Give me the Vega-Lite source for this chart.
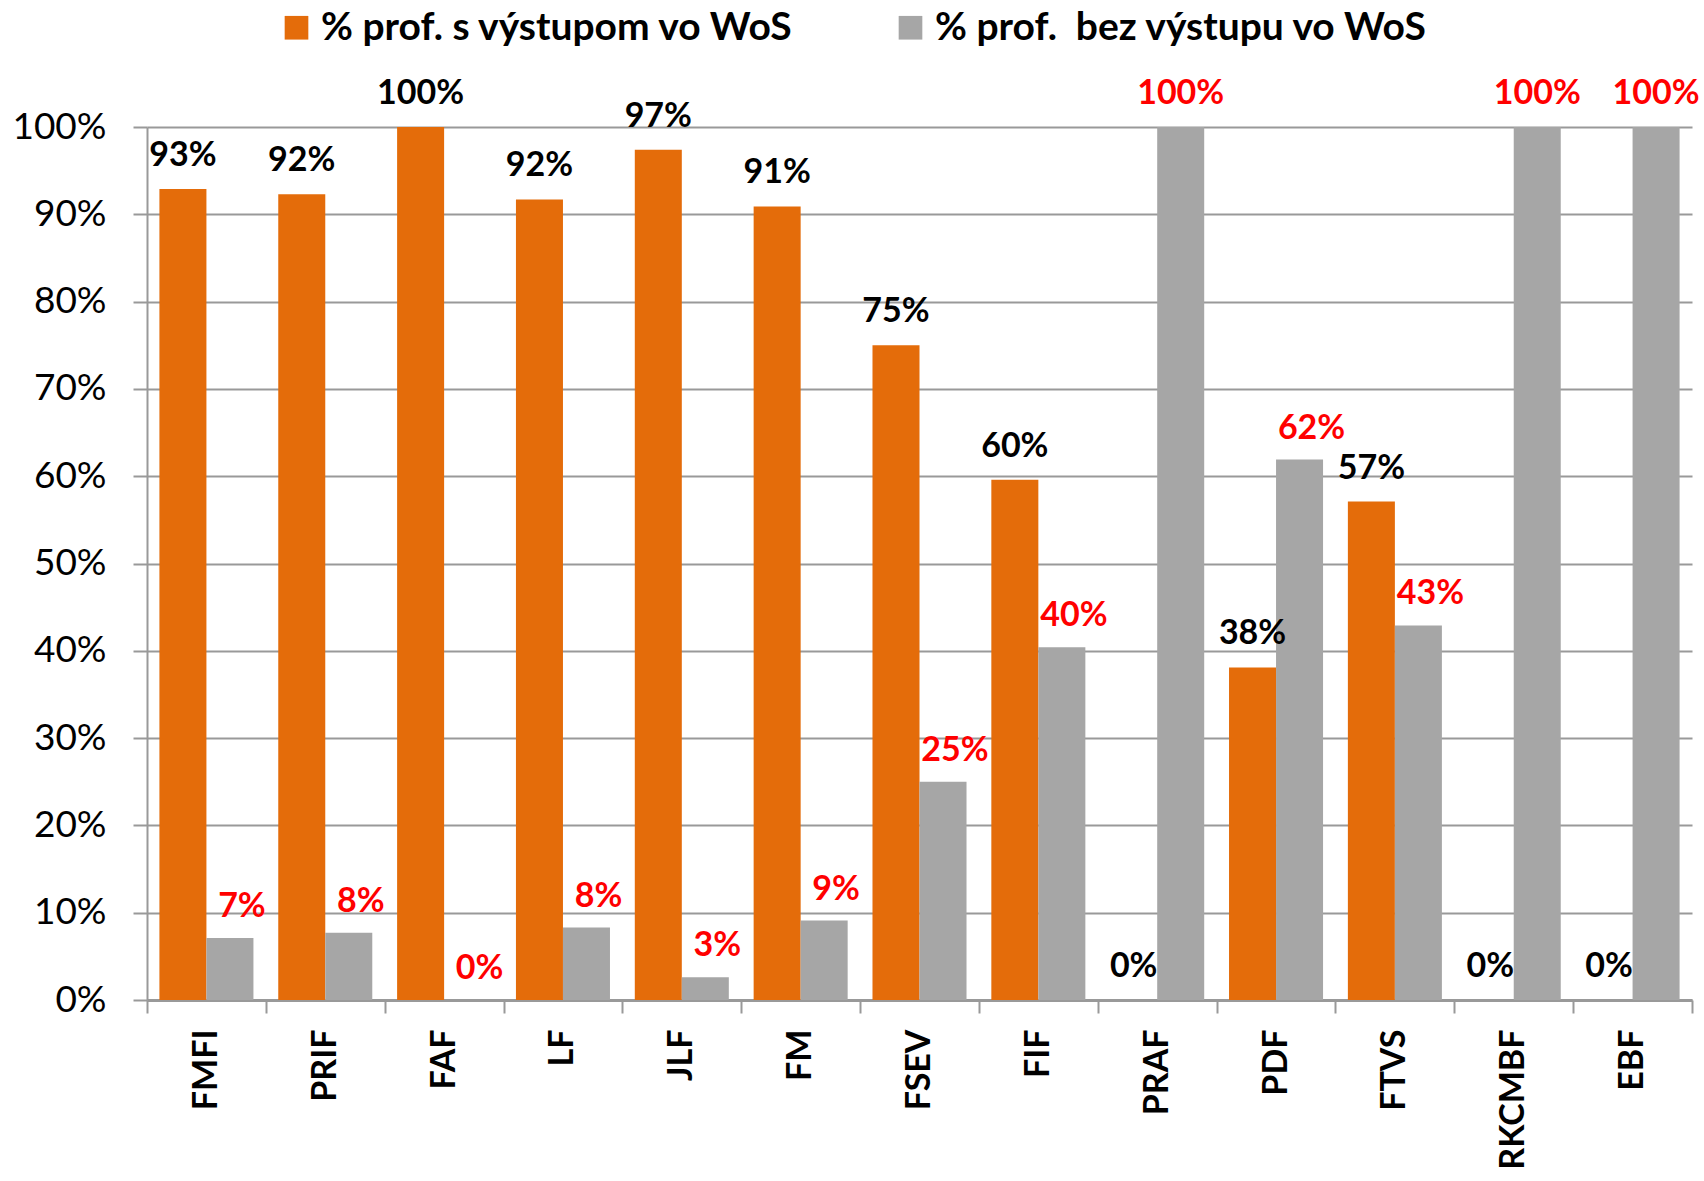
{
  "$schema": "https://vega.github.io/schema/vega-lite/v6.json",
  "width": 1545,
  "height": 873,
  "autosize": {"type": "none"},
  "padding": {"left": 147, "top": 127, "right": 12, "bottom": 181},
  "background": "white",
  "config": {"view": {"stroke": null}, "font": "Lato"},
  "data": {
    "values": [
      {"fak": "FMFI", "ser": "% prof. s výstupom vo WoS", "v": 0.929},
      {"fak": "FMFI", "ser": "% prof.  bez výstupu vo WoS", "v": 0.071},
      {"fak": "PRIF", "ser": "% prof. s výstupom vo WoS", "v": 0.923},
      {"fak": "PRIF", "ser": "% prof.  bez výstupu vo WoS", "v": 0.077},
      {"fak": "FAF", "ser": "% prof. s výstupom vo WoS", "v": 1.0},
      {"fak": "FAF", "ser": "% prof.  bez výstupu vo WoS", "v": 0.0},
      {"fak": "LF", "ser": "% prof. s výstupom vo WoS", "v": 0.917},
      {"fak": "LF", "ser": "% prof.  bez výstupu vo WoS", "v": 0.083},
      {"fak": "JLF", "ser": "% prof. s výstupom vo WoS", "v": 0.974},
      {"fak": "JLF", "ser": "% prof.  bez výstupu vo WoS", "v": 0.026},
      {"fak": "FM", "ser": "% prof. s výstupom vo WoS", "v": 0.909},
      {"fak": "FM", "ser": "% prof.  bez výstupu vo WoS", "v": 0.091},
      {"fak": "FSEV", "ser": "% prof. s výstupom vo WoS", "v": 0.75},
      {"fak": "FSEV", "ser": "% prof.  bez výstupu vo WoS", "v": 0.25},
      {"fak": "FIF", "ser": "% prof. s výstupom vo WoS", "v": 0.596},
      {"fak": "FIF", "ser": "% prof.  bez výstupu vo WoS", "v": 0.404},
      {"fak": "PRAF", "ser": "% prof. s výstupom vo WoS", "v": 0.0},
      {"fak": "PRAF", "ser": "% prof.  bez výstupu vo WoS", "v": 1.0},
      {"fak": "PDF", "ser": "% prof. s výstupom vo WoS", "v": 0.381},
      {"fak": "PDF", "ser": "% prof.  bez výstupu vo WoS", "v": 0.619},
      {"fak": "FTVS", "ser": "% prof. s výstupom vo WoS", "v": 0.571},
      {"fak": "FTVS", "ser": "% prof.  bez výstupu vo WoS", "v": 0.429},
      {"fak": "RKCMBF", "ser": "% prof. s výstupom vo WoS", "v": 0.0},
      {"fak": "RKCMBF", "ser": "% prof.  bez výstupu vo WoS", "v": 1.0},
      {"fak": "EBF", "ser": "% prof. s výstupom vo WoS", "v": 0.0},
      {"fak": "EBF", "ser": "% prof.  bez výstupu vo WoS", "v": 1.0}
    ]
  },
  "encoding": {
    "x": {
      "field": "fak", "type": "nominal", "sort": null,
      "scale": {"paddingInner": 0, "paddingOuter": 0},
      "axis": {
        "title": null, "labelAngle": -90, "labelFont": "Lato", "labelFontWeight": "bold",
        "labelFontSize": 34, "labelColor": "black", "tickBand": "extent",
        "tickSize": 13, "tickColor": "#999999", "tickWidth": 2,
        "domainColor": "#999999", "domainWidth": 3, "labelPadding": 16, "grid": false
      }
    },
    "xOffset": {
      "field": "ser", "type": "nominal",
      "sort": ["% prof. s výstupom vo WoS", "% prof.  bez výstupu vo WoS"],
      "scale": {"paddingOuter": 0.264, "paddingInner": 0}
    },
    "y": {
      "field": "v", "type": "quantitative",
      "scale": {"domain": [0, 1], "nice": false},
      "axis": {
        "title": null, "format": ".0%", "values": [0, 0.1, 0.2, 0.3, 0.4, 0.5, 0.6, 0.7, 0.8, 0.9, 1.0],
        "labelFont": "Lato", "labelFontSize": 37, "labelColor": "black",
        "tickSize": 14, "tickColor": "#999999", "tickWidth": 2, "labelPadding": 27,
        "domainColor": "#999999", "domainWidth": 2,
        "grid": true, "gridColor": "#999999", "gridWidth": 2
      }
    }
  },
  "layer": [
    {
      "mark": {"type": "bar"},
      "encoding": {
        "color": {
          "field": "ser", "type": "nominal",
          "scale": {"domain": ["% prof. s výstupom vo WoS", "% prof.  bez výstupu vo WoS"], "range": ["#E46C0A", "#A6A6A6"]},
          "legend": {
            "title": null, "orient": "none", "direction": "horizontal",
            "legendX": 130, "legendY": -119,
            "symbolType": "square", "symbolSize": 560, "symbolStrokeWidth": 0,
            "labelFont": "Lato", "labelFontWeight": "bold", "labelFontSize": 39, "labelColor": "black",
            "labelOffset": 5, "columnPadding": 97, "labelLimit": 800,
            "labelExpr": "replace(datum.label, '  ', '\u00a0 ')"
          }
        }
      }
    },
    {
      "transform": [{"filter": "datum.ser === '% prof. s výstupom vo WoS'"}],
      "mark": {"type": "text", "baseline": "bottom", "dy": -16, "font": "Lato", "fontWeight": "bold", "fontSize": 34, "color": "black"},
      "encoding": {
        "text": {"field": "v", "type": "quantitative", "format": ".0%"}
      }
    },
    {
      "transform": [{"filter": "datum.ser !== '% prof. s výstupom vo WoS' && datum.v < 1"}],
      "mark": {"type": "text", "baseline": "bottom", "dy": -14, "dx": 12, "font": "Lato", "fontWeight": "bold", "fontSize": 34, "color": "#FF0000"},
      "encoding": {
        "text": {"field": "v", "type": "quantitative", "format": ".0%"}
      }
    },
    {
      "transform": [{"filter": "datum.ser !== '% prof. s výstupom vo WoS' && datum.v >= 1"}],
      "mark": {"type": "text", "baseline": "bottom", "dy": -16, "font": "Lato", "fontWeight": "bold", "fontSize": 34, "color": "#FF0000"},
      "encoding": {
        "text": {"field": "v", "type": "quantitative", "format": ".0%"}
      }
    }
  ]
}
